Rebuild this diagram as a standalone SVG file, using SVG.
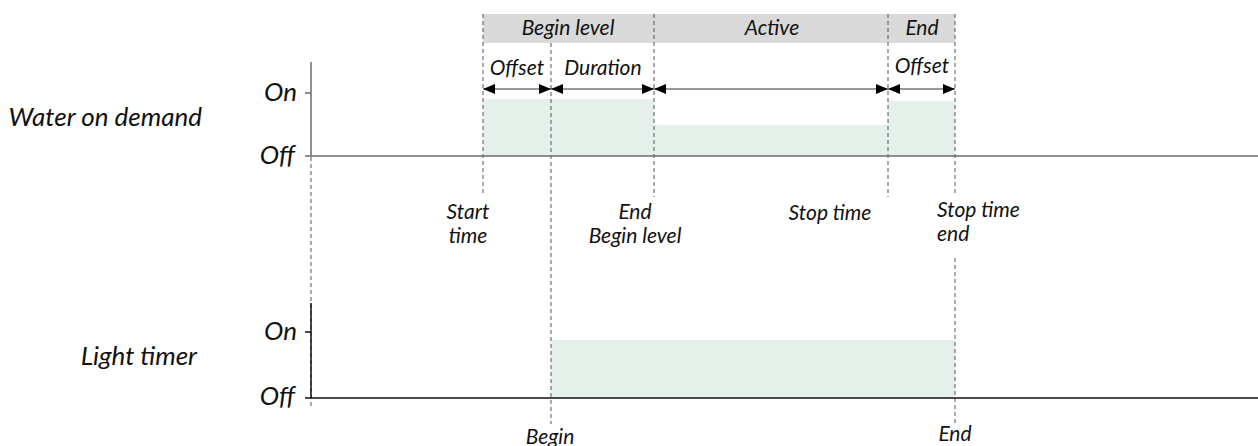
<svg xmlns="http://www.w3.org/2000/svg" width="1258" height="446" viewBox="0 0 1258 446">
<style>
text{font-family:Lato,"Open Sans","Liberation Sans",sans-serif;font-style:italic;fill:#111}
.s{font-size:21px}
.l{font-size:26px}
.m{text-anchor:middle}
.e{text-anchor:end}
.dash{stroke:#555;stroke-width:1;stroke-dasharray:4 3;fill:none}
.fill{fill:#e5f0eb}
.ax{stroke:#6b6b6b;stroke-width:1.5;fill:none}
.axb{stroke:#111;stroke-width:1.5;fill:none}
.arr{stroke:#333;stroke-width:1.2;marker-start:url(#ah);marker-end:url(#ah)}
</style>
<defs>
<marker id="ah" viewBox="0 0 12 10" refX="12" refY="5" markerWidth="12" markerHeight="10" markerUnits="userSpaceOnUse" orient="auto-start-reverse">
<path d="M0,0 L12,5 L0,10 z" fill="#000"/>
</marker>
</defs>
<g id="band">
<rect x="483" y="14" width="472" height="29" fill="#d9d9d9"/>
<text class="s m" x="568" y="35">Begin level</text>
<text class="s m" x="772" y="35">Active</text>
<text class="s m" x="922" y="35">End</text>
</g>
<g id="fills">
<rect class="fill" x="483" y="99" width="171" height="57"/>
<rect class="fill" x="654" y="125" width="234" height="31"/>
<rect class="fill" x="888" y="101" width="67" height="55"/>
<rect class="fill" x="551" y="340" width="404" height="58"/>
</g>
<g id="guides">
<line class="dash" x1="483" y1="14" x2="483" y2="196"/>
<line class="dash" x1="551" y1="43" x2="551" y2="424"/>
<line class="dash" x1="654" y1="14" x2="654" y2="197"/>
<line class="dash" x1="888" y1="14" x2="888" y2="197"/>
<line class="dash" x1="955" y1="14" x2="955" y2="196"/>
<line class="dash" x1="955" y1="258" x2="955" y2="423"/>
<line class="dash" x1="311" y1="157" x2="311" y2="407"/>
</g>
<g id="axis-water">
<line class="ax" x1="311" y1="62" x2="311" y2="156"/>
<line class="ax" x1="305" y1="93" x2="311" y2="93"/>
<line class="ax" x1="305" y1="156" x2="1258" y2="156"/>
<text class="l e" x="297" y="101">On</text>
<text class="l e" x="295" y="164">Off</text>
<text class="l e" x="202" y="126">Water on demand</text>
</g>
<g id="axis-light">
<line class="axb" x1="311" y1="303" x2="311" y2="398"/>
<line class="axb" x1="305" y1="332" x2="311" y2="332"/>
<line class="axb" x1="305" y1="398" x2="1258" y2="398"/>
<text class="l e" x="297" y="340">On</text>
<text class="l e" x="295" y="405">Off</text>
<text class="l e" x="197" y="365">Light timer</text>
</g>
<g id="connectors">
<line class="arr" x1="483" y1="89" x2="551" y2="89"/>
<line class="arr" x1="551" y1="89" x2="654" y2="89"/>
<line class="arr" x1="654" y1="89" x2="888" y2="89"/>
<line class="arr" x1="888" y1="89" x2="955" y2="89"/>
</g>
<g id="span-labels">
<text class="s m" x="517" y="75">Offset</text>
<text class="s m" x="603" y="75">Duration</text>
<text class="s m" x="922" y="73">Offset</text>
</g>
<g id="time-labels">
<text class="s m" x="468" y="219">Start</text>
<text class="s m" x="468" y="243">time</text>
<text class="s m" x="635" y="219">End</text>
<text class="s m" x="635" y="243">Begin level</text>
<text class="s m" x="830" y="220">Stop time</text>
<text class="s" x="937" y="217">Stop time</text>
<text class="s" x="937" y="241">end</text>
<text class="s m" x="550" y="444">Begin</text>
<text class="s m" x="955" y="441">End</text>
</g>
</svg>
